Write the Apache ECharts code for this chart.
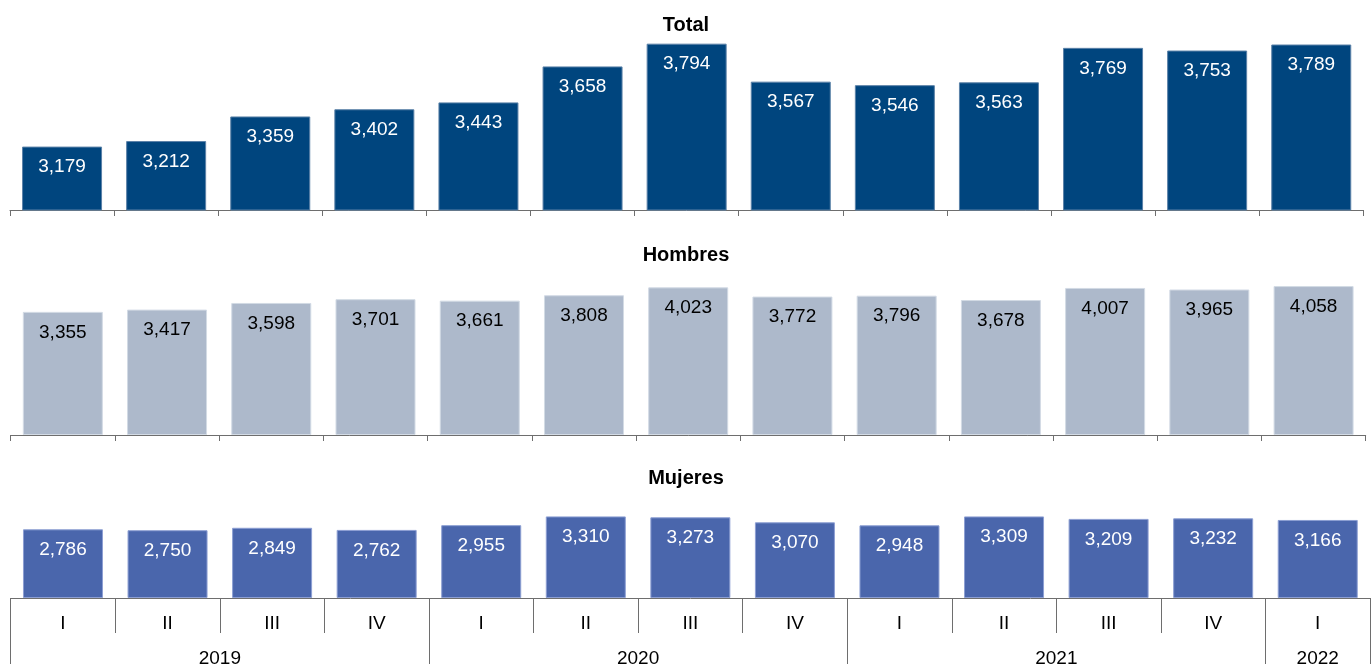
<!DOCTYPE html>
<html>
<head>
<meta charset="utf-8">
<script src="https://cdn.jsdelivr.net/npm/echarts@6/dist/echarts.min.js"></script>
<style>
html,body{margin:0;padding:0;background:#fff;}
#c{width:1372px;height:664px;}
</style>
</head>
<body>
<div id="c"></div>
<script>
// ---- data ----
var years = ['2019', '2020', '2021', '2022'];
var quartersPerYear = [4, 4, 4, 1];
var quarterNames = ['I', 'II', 'III', 'IV'];
var totalValues   = [3179, 3212, 3359, 3402, 3443, 3658, 3794, 3567, 3546, 3563, 3769, 3753, 3789];
var hombresValues = [3355, 3417, 3598, 3701, 3661, 3808, 4023, 3772, 3796, 3678, 4007, 3965, 4058];
var mujeresValues = [2786, 2750, 2849, 2762, 2955, 3310, 3273, 3070, 2948, 3309, 3209, 3232, 3166];
var panelTitles = ['Total', 'Hombres', 'Mujeres'];

// ---- derived categories ----
var categories = [];
var yearBounds = [0];
var yearCenters = [];
var pos = 0;
years.forEach(function (y, i) {
  for (var q = 0; q < quartersPerYear[i]; q++) categories.push(y + '-' + quarterNames[q]);
  yearCenters.push(pos + quartersPerYear[i] / 2);
  pos += quartersPerYear[i];
  yearBounds.push(pos);
});

var FONT = 'Liberation Sans, Arial, sans-serif';
var axisColor = '#6e6e6e';

var chart = echarts.init(document.getElementById('c'), null, {renderer: 'canvas'});

function barSeries(idx, data, color, border, labelColor) {
  return {
    type: 'bar', xAxisIndex: idx, yAxisIndex: idx, data: data,
    barWidth: 80,
    itemStyle: {color: color, borderColor: border, borderWidth: 1},
    label: {
      show: true, position: 'insideTop', distance: 11,
      color: labelColor, fontSize: 19, fontFamily: FONT,
      formatter: function (p) { return echarts.format.addCommas(p.value); }
    },
    silent: true, animation: false
  };
}

var option = {
  animation: false,
  title: [
    {text: panelTitles[0], left: 'center', top: 15.5},
    {text: panelTitles[1], left: 'center', top: 245},
    {text: panelTitles[2], left: 'center', top: 468}
  ].map(function (t) {
    t.textStyle = {fontSize: 20, fontWeight: 'bold', color: '#000', fontFamily: FONT};
    t.padding = 0;
    return t;
  }),
  grid: [
    {left: 10, right: 8.7, top: 9.2, height: 200.8, outerBoundsMode: 'none', containLabel: false},
    {left: 10.7, right: 6.3, top: 251.5, height: 183.5, outerBoundsMode: 'none', containLabel: false},
    {left: 10.7, right: 2, top: 499.4, height: 98.6, outerBoundsMode: 'none', containLabel: false}
  ],
  xAxis: [
    {
      type: 'category', gridIndex: 0, data: categories,
      axisLine: {lineStyle: {color: axisColor, width: 1}},
      axisTick: {show: true, length: 6, lineStyle: {color: axisColor}},
      axisLabel: {show: false}
    },
    {
      type: 'category', gridIndex: 1, data: categories,
      axisLine: {lineStyle: {color: axisColor, width: 1}},
      axisTick: {show: true, length: 6, lineStyle: {color: axisColor}},
      axisLabel: {show: false}
    },
    {
      type: 'category', gridIndex: 2, data: categories,
      axisLine: {lineStyle: {color: axisColor, width: 1}},
      axisTick: {show: true, length: 35, interval: 0, lineStyle: {color: axisColor}},
      axisLabel: {
        show: true, interval: 0, margin: 16, color: '#000', fontSize: 19, fontFamily: FONT,
        formatter: function (v) { return v.split('-')[1]; }
      }
    },
    {
      type: 'value', gridIndex: 2, position: 'bottom', offset: 35,
      min: 0, max: categories.length,
      splitLine: {show: false},
      axisLine: {show: false},
      axisTick: {show: true, length: 31, customValues: yearBounds, lineStyle: {color: axisColor}},
      axisLabel: {
        show: true, margin: 16, color: '#000', fontSize: 19, fontFamily: FONT,
        customValues: yearCenters,
        formatter: function (v) {
          var i = yearCenters.indexOf(v);
          return i >= 0 ? years[i] : '';
        }
      }
    }
  ],
  yAxis: [
    {type: 'value', gridIndex: 0, min: 2800, max: 4000, show: false, splitLine: {show: false}},
    {type: 'value', gridIndex: 1, min: 0, max: 5000, show: false, splitLine: {show: false}},
    {type: 'value', gridIndex: 2, min: 0, max: 4000, show: false, splitLine: {show: false}}
  ],
  series: [
    barSeries(0, totalValues, '#00457E', '#5b82a8', '#ffffff'),
    barSeries(1, hombresValues, '#ADB9CB', '#d3dbe5', '#000000'),
    barSeries(2, mujeresValues, '#4A66AC', '#8d9fd3', '#ffffff')
  ]
};
chart.setOption(option);
</script>
</body>
</html>
